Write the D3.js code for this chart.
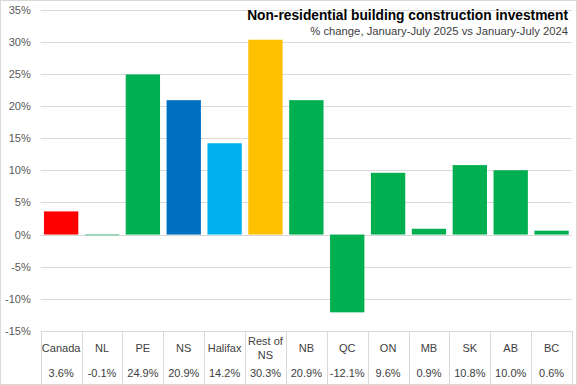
<!DOCTYPE html>
<html>
<head>
<meta charset="utf-8">
<script src="https://cdn.jsdelivr.net/npm/d3@7"></script>
<style>
  body { margin: 0; background: #fff; }
  svg { display: block; font-family: "Liberation Sans", Arial, sans-serif; }
</style>
</head>
<body>
<svg id="chart" width="577" height="385"></svg>
<script>
// chart data
const categories = ['Canada', 'NL', 'PE', 'NS', 'Halifax', 'Rest of NS', 'NB', 'QC', 'ON', 'MB', 'SK', 'AB', 'BC'];
const values = [3.6, -0.1, 24.9, 20.9, 14.2, 30.3, 20.9, -12.1, 9.6, 0.9, 10.8, 10.0, 0.6];
const valueLabels = ['3.6%', '-0.1%', '24.9%', '20.9%', '14.2%', '30.3%', '20.9%', '-12.1%', '9.6%', '0.9%', '10.8%', '10.0%', '0.6%'];
const barColors = ['#FF0000', '#00B050', '#00B050', '#0070C0', '#00B0F0', '#FFC000', '#00B050', '#00B050', '#00B050', '#00B050', '#00B050', '#00B050', '#00B050'];
const yTicks = [35, 30, 25, 20, 15, 10, 5, 0, -5, -10, -15];

const width = 577;
const height = 385;
const margin = { top: 9.5, right: 5, bottom: 54, left: 40.7 };
const tableBottom = 384;

const svg = d3.select('#chart');

// outer chart border
svg.append('rect')
    .attr('x', 0.5).attr('y', 0.5)
    .attr('width', width - 1).attr('height', height - 1)
    .attr('fill', 'none')
    .attr('stroke', '#d9d9d9');

const x = d3.scaleBand()
    .domain(categories)
    .range([margin.left, width - margin.right])
    .paddingInner(0.16)
    .paddingOuter(0.08);

const y = d3.scaleLinear()
    .domain([-15, 35])
    .range([height - margin.bottom, margin.top]);

// gridlines
svg.append('g')
    .selectAll('line')
    .data(yTicks)
    .join('line')
    .attr('x1', margin.left)
    .attr('x2', width - margin.right)
    .attr('y1', d => Math.round(y(d)) + 0.5)
    .attr('y2', d => Math.round(y(d)) + 0.5)
    .attr('stroke', '#d9d9d9')
    .attr('stroke-width', 1);

// y axis labels
const yAxis = d3.axisLeft(y)
    .tickValues(yTicks)
    .tickFormat(d => d + '%')
    .tickSize(0)
    .tickPadding(10);

svg.append('g')
    .attr('transform', `translate(${margin.left}, 0)`)
    .call(yAxis)
    .call(g => g.select('.domain').remove())
    .selectAll('text')
    .attr('font-size', '11px')
    .attr('fill', '#595959')
    .attr('font-family', '"Liberation Sans", Arial, sans-serif');

// bars
svg.append('g')
    .selectAll('rect')
    .data(values)
    .join('rect')
    .attr('x', (d, i) => x(categories[i]))
    .attr('width', x.bandwidth())
    .attr('y', d => y(Math.max(0, d)))
    .attr('height', d => Math.abs(y(d) - y(0)))
    .attr('fill', (d, i) => barColors[i]);

// data table below the plot
const step = x.step();
const colEdges = categories.map((c, i) => margin.left + i * step).concat([width - margin.right]);
const table = svg.append('g');

table.selectAll('line.col')
    .data(colEdges)
    .join('line')
    .attr('class', 'col')
    .attr('x1', d => Math.round(d) + 0.5)
    .attr('x2', d => Math.round(d) + 0.5)
    .attr('y1', y(-15))
    .attr('y2', tableBottom)
    .attr('stroke', '#d9d9d9');

table.append('line')
    .attr('x1', margin.left)
    .attr('x2', width - margin.right)
    .attr('y1', tableBottom + 0.5)
    .attr('y2', tableBottom + 0.5)
    .attr('stroke', '#d9d9d9');

categories.forEach((c, i) => {
    const cx = margin.left + (i + 0.5) * step;
    const lines = c === 'Rest of NS' ? ['Rest of', 'NS'] : [c];
    const t = table.append('text')
        .attr('x', cx)
        .attr('text-anchor', 'middle')
        .attr('font-size', '11px')
        .attr('fill', '#404040');
    lines.forEach((l, j) => {
        t.append('tspan')
            .attr('x', cx)
            .attr('y', lines.length === 1 ? 352 : 345 + j * 14)
            .text(l);
    });

    table.append('text')
        .attr('x', cx)
        .attr('y', 377)
        .attr('text-anchor', 'middle')
        .attr('font-size', '11px')
        .attr('fill', '#404040')
        .text(valueLabels[i]);
});

// title + subtitle, font size fitted to the width seen in the reference
function fitText(sel, maxWidth, startSize) {
    let size = startSize;
    sel.attr('font-size', size + 'px');
    while (sel.node().getComputedTextLength() > maxWidth && size > 8) {
        size -= 0.25;
        sel.attr('font-size', size + 'px');
    }
}

const title = svg.append('text')
    .attr('x', 568)
    .attr('y', 20)
    .attr('text-anchor', 'end')
    .attr('font-family', '"Liberation Sans Narrow", "Liberation Sans", Arial, sans-serif')
    .attr('font-weight', 'bold')
    .attr('fill', '#000')
    .text('Non-residential building construction investment');
fitText(title, 321, 16);

const subtitle = svg.append('text')
    .attr('x', 568)
    .attr('y', 35)
    .attr('text-anchor', 'end')
    .attr('font-family', '"Liberation Sans Narrow", "Liberation Sans", Arial, sans-serif')
    .attr('fill', '#404040')
    .text('% change, January-July 2025 vs January-July 2024');
fitText(subtitle, 258, 13);
</script>
</body>
</html>
